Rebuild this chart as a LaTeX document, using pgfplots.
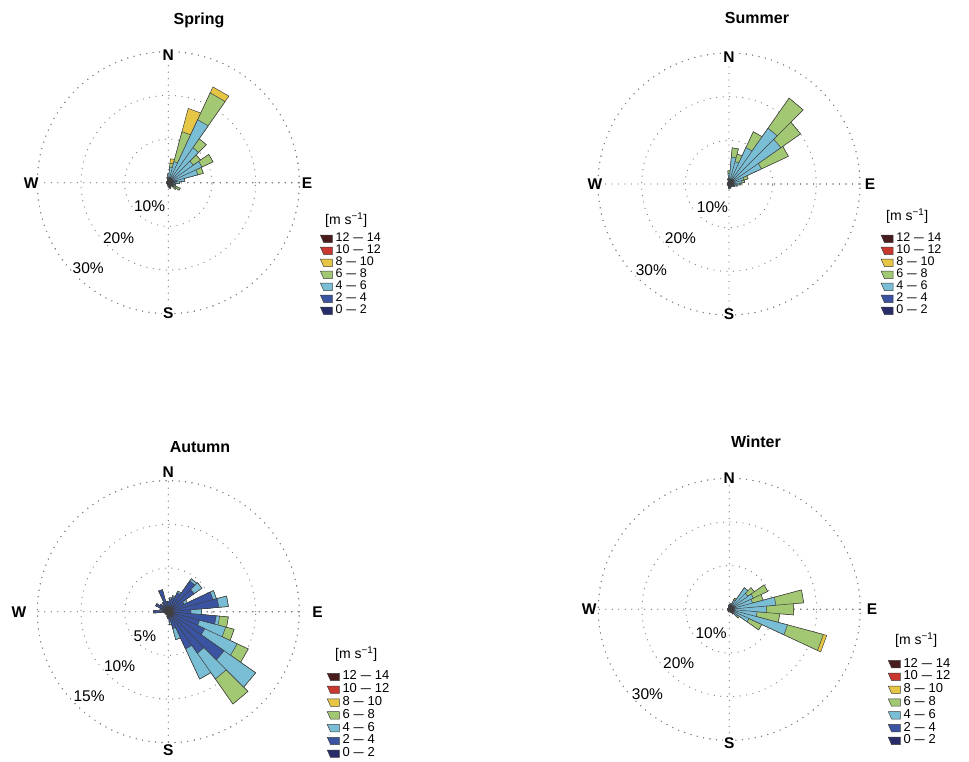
\documentclass[border=0pt]{standalone}
\usepackage{pgfplots}
\pgfplotsset{compat=1.18}
\usepackage{pgfplotstable}
\usepackage{graphicx}
\usepgfplotslibrary{polar}
\usepackage{fontspec}
\setmainfont{Liberation Sans}
\setsansfont{Liberation Sans}

\definecolor{bA}{RGB}{40,44,104}
\definecolor{bB}{RGB}{58,84,162}
\definecolor{bC}{RGB}{122,190,214}
\definecolor{bD}{RGB}{162,200,116}
\definecolor{bE}{RGB}{230,198,68}
\definecolor{bF}{RGB}{200,56,46}
\definecolor{bG}{RGB}{72,28,28}

\newcommand\dd{\hspace{0.3em}\scalebox{1.4}[1]{–}\hspace{0.3em}}

\tikzset{
  gridline/.style={draw=black!50, line width=1.3pt, line cap=round, dash pattern=on 0pt off 6.5pt},
  sector/.style={draw=black!75, line width=0.5pt, line join=miter},
  dirlab/.style={font=\bfseries\fontsize{15.5}{16}\selectfont, fill=white, inner sep=1pt},
  pctlab/.style={font=\fontsize{15.5}{16}\selectfont, fill=white, inner sep=0.5pt},
  ttl/.style={font=\bfseries\fontsize{16}{16}\selectfont},
  hdr/.style={font=\fontsize{14}{14}\selectfont, anchor=west, inner sep=0pt},
}

% frequency (%) of each speed class per 10-degree sector
% s0: 0-2, s1: 2-4, s2: 4-6, s3: 6-8, s4: 8-10 m/s
\pgfplotstableread{
dir s0 s1 s2 s3 s4
0   0.3 0.5 1.2 0.0 0.0
10  0.3 0.5 2.8 0.9 1.0
20  0.3 0.7 4.0 7.1 5.5
30  0.4 0.8 14.7 6.8 1.5
40  0.3 0.7 8.8 2.5 0.0
50  0.3 0.7 6.0 2.0 0.0
60  0.3 0.8 7.4 2.8 0.0
70  0.3 0.9 5.8 1.3 0.0
80  0.5 1.5 1.8 0.0 0.0
90  0.4 1.0 1.2 0.0 0.0
100 0.3 0.6 0.8 0.0 0.0
110 0.3 0.4 0.6 0.5 0.0
120 0.3 0.5 1.0 1.2 0.0
130 0.3 0.4 0.6 0.9 0.0
140 0.3 0.3 0.4 0.0 0.0
150 0.3 0.3 0.3 0.0 0.0
160 0.5 0.6 0.3 0.0 0.0
170 0.5 0.5 0.0 0.0 0.0
180 0.4 0.4 0.0 0.0 0.0
190 0.3 0.3 0.0 0.0 0.0
200 0.3 0.2 0.0 0.0 0.0
210 0.2 0.2 0.0 0.0 0.0
220 0.2 0.2 0.0 0.0 0.0
230 0.2 0.2 0.0 0.0 0.0
240 0.2 0.2 0.0 0.0 0.0
250 0.2 0.2 0.0 0.0 0.0
260 0.2 0.2 0.0 0.0 0.0
270 0.2 0.2 0.0 0.0 0.0
280 0.2 0.2 0.0 0.0 0.0
290 0.2 0.2 0.0 0.0 0.0
300 0.2 0.2 0.0 0.0 0.0
310 0.2 0.2 0.0 0.0 0.0
320 0.2 0.2 0.0 0.0 0.0
330 0.2 0.2 0.0 0.0 0.0
340 0.2 0.2 0.0 0.0 0.0
350 0.3 0.4 0.5 0.0 0.0
}\spring

\pgfplotstableread{
dir s0 s1 s2 s3 s4
0   0.3 0.6 1.6 0.5 0.0
10  0.3 0.7 5.2 2.1 0.0
20  0.3 0.7 4.3 1.8 0.0
30  0.4 0.8 8.0 4.0 0.0
40  0.4 0.9 14.3 8.4 0.0
50  0.4 0.9 13.2 5.5 0.0
60  0.4 0.8 7.0 6.8 0.0
70  0.3 0.8 2.4 1.0 0.0
80  0.3 0.7 2.0 0.6 0.0
90  0.3 0.6 1.5 0.3 0.0
100 0.3 0.6 1.0 0.0 0.0
110 0.3 0.5 0.6 0.0 0.0
120 0.3 0.4 0.3 0.0 0.0
130 0.3 0.3 0.2 0.0 0.0
140 0.3 0.3 0.2 0.0 0.0
150 0.3 0.3 0.2 0.0 0.0
160 0.4 0.4 0.2 0.0 0.0
170 0.4 0.4 0.2 0.0 0.0
180 0.4 0.4 0.3 0.0 0.0
190 0.3 0.3 0.0 0.0 0.0
200 0.2 0.2 0.0 0.0 0.0
210 0.2 0.2 0.0 0.0 0.0
220 0.2 0.2 0.0 0.0 0.0
230 0.2 0.2 0.0 0.0 0.0
240 0.2 0.2 0.0 0.0 0.0
250 0.2 0.2 0.0 0.0 0.0
260 0.2 0.2 0.0 0.0 0.0
270 0.2 0.2 0.0 0.0 0.0
280 0.2 0.2 0.0 0.0 0.0
290 0.2 0.2 0.0 0.0 0.0
300 0.2 0.2 0.0 0.0 0.0
310 0.2 0.2 0.0 0.0 0.0
320 0.2 0.2 0.0 0.0 0.0
330 0.2 0.2 0.0 0.0 0.0
340 0.2 0.2 0.0 0.0 0.0
350 0.3 0.4 0.5 0.0 0.0
}\summer

\pgfplotstableread{
dir s0 s1 s2 s3 s4
0   0.4 0.8 0.0 0.0 0.0
10  0.4 1.0 0.2 0.0 0.0
20  0.4 1.3 0.2 0.0 0.0
30  0.4 2.0 0.2 0.0 0.0
40  0.5 3.8 0.3 0.0 0.0
50  0.5 3.1 1.1 0.0 0.0
60  0.4 1.6 0.4 0.0 0.0
70  0.5 4.8 0.4 0.0 0.0
80  0.5 5.3 1.1 0.0 0.0
90  0.4 2.2 1.2 0.0 0.0
100 0.5 5.0 0.4 1.0 0.0
110 0.5 3.2 3.1 1.0 0.0
120 0.5 4.1 4.1 1.4 0.0
130 0.5 7.3 4.4 0.0 0.0
140 0.5 5.3 3.6 3.5 0.0
150 0.5 4.2 3.8 0.0 0.0
160 0.4 1.6 1.3 0.0 0.0
170 0.4 0.8 0.3 0.0 0.0
180 0.3 0.5 0.0 0.0 0.0
190 0.3 0.3 0.0 0.0 0.0
200 0.2 0.2 0.0 0.0 0.0
210 0.2 0.2 0.0 0.0 0.0
220 0.2 0.2 0.0 0.0 0.0
230 0.2 0.2 0.0 0.0 0.0
240 0.2 0.2 0.0 0.0 0.0
250 0.2 0.2 0.0 0.0 0.0
260 0.2 0.3 0.0 0.0 0.0
270 0.4 1.3 0.0 0.0 0.0
280 0.3 0.4 0.0 0.0 0.0
290 0.3 0.7 0.0 0.0 0.0
300 0.4 1.2 0.0 0.0 0.0
310 0.4 0.8 0.0 0.0 0.0
320 0.3 0.5 0.0 0.0 0.0
330 0.4 0.8 0.0 0.0 0.0
340 0.5 2.1 0.0 0.0 0.0
350 0.4 0.8 0.0 0.0 0.0
}\autumn

\pgfplotstableread{
dir s0 s1 s2 s3 s4
0   0.3 0.4 0.3 0.0 0.0
10  0.3 0.4 0.4 0.0 0.0
20  0.3 0.5 0.6 0.0 0.0
30  0.3 0.6 1.5 0.4 0.0
40  0.3 0.7 5.0 0.0 0.0
50  0.3 0.7 4.2 1.8 0.0
60  0.3 0.8 5.0 3.6 0.0
70  0.3 0.8 4.4 2.5 0.0
80  0.3 0.8 9.6 6.4 0.0
90  0.3 0.8 7.4 6.3 0.0
100 0.3 0.7 5.4 5.2 0.0
110 0.3 0.8 12.7 8.5 0.8
120 0.3 0.6 4.1 3.2 0.0
130 0.3 0.5 1.5 0.5 0.0
140 0.3 0.4 0.6 0.0 0.0
150 0.3 0.3 0.2 0.0 0.0
160 0.3 0.3 0.0 0.0 0.0
170 0.3 0.3 0.0 0.0 0.0
180 0.3 0.3 0.0 0.0 0.0
190 0.3 0.3 0.0 0.0 0.0
200 0.3 0.3 0.0 0.0 0.0
210 0.2 0.2 0.0 0.0 0.0
220 0.2 0.2 0.0 0.0 0.0
230 0.2 0.2 0.0 0.0 0.0
240 0.2 0.2 0.0 0.0 0.0
250 0.2 0.2 0.0 0.0 0.0
260 0.2 0.2 0.0 0.0 0.0
270 0.2 0.2 0.0 0.0 0.0
280 0.2 0.2 0.0 0.0 0.0
290 0.2 0.2 0.0 0.0 0.0
300 0.2 0.2 0.0 0.0 0.0
310 0.2 0.2 0.0 0.0 0.0
320 0.2 0.2 0.0 0.0 0.0
330 0.2 0.2 0.0 0.0 0.0
340 0.2 0.2 0.0 0.0 0.0
350 0.3 0.3 0.2 0.0 0.0
}\winter

% cumulative columns c0..c4
\newcommand\cumcols[1]{%
  \pgfplotstablecreatecol[expr={\thisrow{s0}}]{c0}{#1}%
  \pgfplotstablecreatecol[expr={\thisrow{c0}+\thisrow{s1}}]{c1}{#1}%
  \pgfplotstablecreatecol[expr={\thisrow{c1}+\thisrow{s2}}]{c2}{#1}%
  \pgfplotstablecreatecol[expr={\thisrow{c2}+\thisrow{s3}}]{c3}{#1}%
  \pgfplotstablecreatecol[expr={\thisrow{c3}+\thisrow{s4}}]{c4}{#1}%
}
\cumcols{\spring}\cumcols{\summer}\cumcols{\autumn}\cumcols{\winter}

% one filled path of wedges (pole -> sector edge -> pole) per cumulative class
\newcommand\rosebin[3]{%
  \gdef\rosepath{}%
  \pgfplotstablegetrowsof{#1}%
  \pgfmathtruncatemacro\rosen{\pgfplotsretval-1}%
  \pgfplotsforeachungrouped \ri in {0,...,\rosen}{%
    \pgfplotstablegetelem{\ri}{dir}\of{#1}\let\rdir\pgfplotsretval
    \pgfplotstablegetelem{\ri}{c#2}\of{#1}\let\rval\pgfplotsretval
    \pgfmathsetmacro\ra{90-\rdir-5}%
    \pgfmathsetmacro\rb{90-\rdir+5}%
    \xdef\rosepath{\rosepath (\ra,0) (\ra,\rval) (\rb,\rval) (\rb,0)}%
  }%
  \edef\rosetmp{\noexpand\addplot[sector, fill=#3, forget plot] coordinates {\rosepath};}%
  \rosetmp
}
\newcommand\drawrose[1]{%
  \rosebin{#1}{4}{bE}\rosebin{#1}{3}{bD}\rosebin{#1}{2}{bC}%
  \rosebin{#1}{1}{bB}\rosebin{#1}{0}{bA}%
}
\newcommand\roselegend{%
  \addlegendimage{sector, fill=bG}\addlegendentry{12\dd 14}
  \addlegendimage{sector, fill=bF}\addlegendentry{10\dd 12}
  \addlegendimage{sector, fill=bE}\addlegendentry{8\dd 10}
  \addlegendimage{sector, fill=bD}\addlegendentry{6\dd 8}
  \addlegendimage{sector, fill=bC}\addlegendentry{4\dd 6}
  \addlegendimage{sector, fill=bB}\addlegendentry{2\dd 4}
  \addlegendimage{sector, fill=bA}\addlegendentry{0\dd 2}
}

\pgfplotsset{
  rose/.style={
    anchor=center, scale only axis, width=262pt, height=262pt,
    xmin=0, xmax=360, ymin=0,
    xtick={0,90,180,270}, xticklabels={}, yticklabels={},
    xmajorgrids, ymajorgrids,
    major grid style={gridline},
    axis line style={gridline},
    tick style={draw=none},
    clip=false,
    legend cell align=left,
    legend image code/.code={\draw[##1] (0pt,3.7pt) -- (12pt,3.7pt) -- (12pt,-3.7pt) -- (3.3pt,-3.7pt) -- cycle;},
  },
  smallleg/.style={legend style={anchor=north west, draw=none, fill=none, inner sep=0pt,
    row sep=0pt, column sep=3pt, font=\fontsize{12.5}{12.5}\selectfont,
    nodes={inner sep=0pt, text height=8.8pt, text depth=3.2pt}}},
  bigleg/.style={legend style={anchor=north west, draw=none, fill=none, inner sep=0pt,
    row sep=0pt, column sep=3pt, font=\fontsize{13}{13}\selectfont,
    nodes={inner sep=0pt, text height=9.4pt, text depth=3.4pt}}},
}

\begin{document}
\begin{tikzpicture}
\path[use as bounding box] (0,0) rectangle (969pt,762pt);

% ---------------- Spring ----------------
\begin{polaraxis}[rose, at={(168.3pt,579.3pt)}, ymax=30, ytick={10,20,30},
  smallleg, legend style={at={(1.079,0.309)}}]
  \drawrose{\spring}
  \roselegend
  \node[dirlab] at (axis cs:90,29.1) {N};
  \node[dirlab] at (axis cs:0,31.8) {E};
  \node[dirlab] at (axis cs:270,29.8) {S};
  \node[dirlab] at (axis cs:180,31.4) {W};
  \node[pctlab] at (axis cs:-129,6.8) {10\%};
  \node[pctlab] at (axis cs:-132,17) {20\%};
  \node[pctlab] at (axis cs:-133,26.9) {30\%};
\end{polaraxis}

% ---------------- Summer ----------------
\begin{polaraxis}[rose, at={(729pt,578pt)}, ymax=30, ytick={10,20,30},
  smallleg, legend style={at={(1.079,0.314)}}]
  \drawrose{\summer}
  \roselegend
  \node[dirlab] at (axis cs:90,29.1) {N};
  \node[dirlab] at (axis cs:0,32.3) {E};
  \node[dirlab] at (axis cs:270,29.8) {S};
  \node[dirlab] at (axis cs:180,30.7) {W};
  \node[pctlab] at (axis cs:-125,6.6) {10\%};
  \node[pctlab] at (axis cs:-132,16.6) {20\%};
  \node[pctlab] at (axis cs:-132,26.6) {30\%};
\end{polaraxis}

% ---------------- Autumn ----------------
\begin{polaraxis}[rose, at={(168.3pt,150.3pt)}, ymax=15, ytick={5,10,15},
  bigleg, legend style={at={(1.105,0.276)}}]
  \drawrose{\autumn}
  \roselegend
  \node[dirlab] at (axis cs:90,16.0) {N};
  \node[dirlab] at (axis cs:0,17.1) {E};
  \node[dirlab] at (axis cs:270,15.8) {S};
  \node[dirlab] at (axis cs:180,17.1) {W};
  \node[pctlab] at (axis cs:-134,3.86) {5\%};
  \node[pctlab] at (axis cs:-132,8.33) {10\%};
  \node[pctlab] at (axis cs:-133,13.3) {15\%};
\end{polaraxis}

% ---------------- Winter ----------------
\begin{polaraxis}[rose, at={(729.3pt,152.7pt)}, ymax=30, ytick={10,20,30},
  bigleg, legend style={at={(1.105,0.316)}}]
  \drawrose{\winter}
  \roselegend
  \node[dirlab] at (axis cs:90,30.0) {N};
  \node[dirlab] at (axis cs:0,32.7) {E};
  \node[dirlab] at (axis cs:270,30.6) {S};
  \node[dirlab] at (axis cs:180,32.1) {W};
  \node[pctlab] at (axis cs:-128,6.8) {10\%};
  \node[pctlab] at (axis cs:-133,17) {20\%};
  \node[pctlab] at (axis cs:-134,27) {30\%};
\end{polaraxis}

% titles and legend headers
\node[ttl] at (199pt,742pt) {Spring};
\node[ttl] at (757pt,744pt) {Summer};
\node[ttl] at (200pt,315pt) {Autumn};
\node[ttl] at (756pt,320pt) {Winter};
\node[hdr] at (325pt,542pt) {[m s\textsuperscript{−1}]};
\node[hdr] at (886pt,546pt) {[m s\textsuperscript{−1}]};
\node[hdr] at (335pt,108pt) {[m s\textsuperscript{−1}]};
\node[hdr] at (895pt,122pt) {[m s\textsuperscript{−1}]};
\end{tikzpicture}
\end{document}
